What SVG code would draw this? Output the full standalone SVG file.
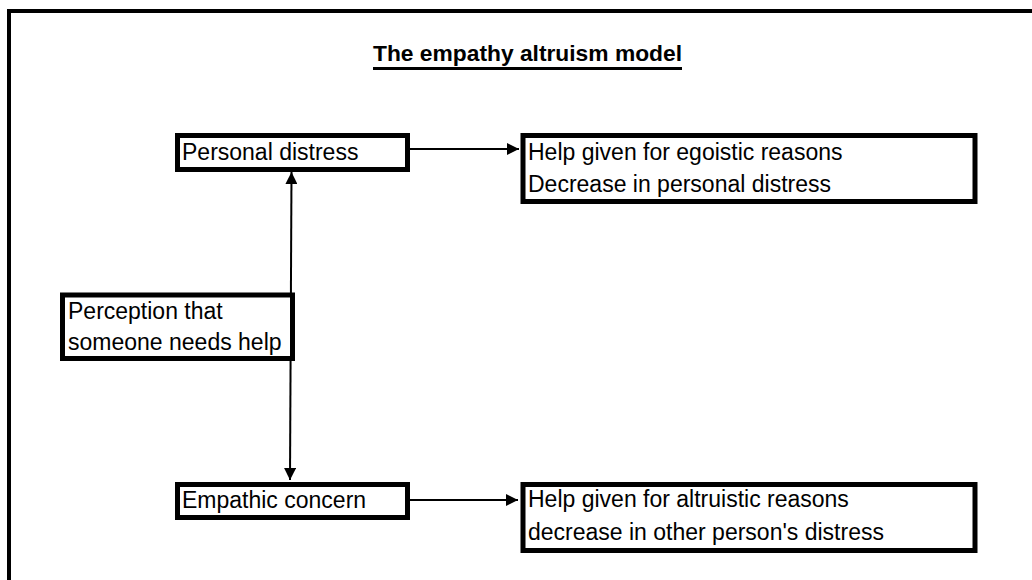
<svg xmlns="http://www.w3.org/2000/svg" width="1032" height="580" viewBox="0 0 1032 580">
  <style>
    .box { fill: #ffffff; stroke: #000000; stroke-width: 5; }
    .t { font-family: "Liberation Sans", Arial, sans-serif; font-size: 23px; fill: #000000; }
    .title { font-family: "Liberation Sans", Arial, sans-serif; font-size: 22px; font-weight: bold; fill: #000000; }
    .conn { stroke: #000000; stroke-width: 2; fill: none; }
  </style>
  <defs>
    <marker id="arrow" viewBox="0 0 12 12" refX="12" refY="6" markerWidth="12" markerHeight="12" markerUnits="userSpaceOnUse" orient="auto-start-reverse">
      <path d="M0,0 L12,6 L0,12 Z" fill="#000000"/>
    </marker>
  </defs>
  <rect width="1032" height="580" fill="#ffffff"/>
  <g id="frame">
    <path d="M9,580 L9,11 L1032,11" fill="none" stroke="#000000" stroke-width="4"/>
  </g>
  <g id="title">
    <text class="title" x="373" y="61" textLength="309" lengthAdjust="spacingAndGlyphs">The empathy altruism model</text>
    <line x1="373" y1="68.5" x2="682" y2="68.5" stroke="#000000" stroke-width="3"/>
  </g>
  <g id="connectors">
    <line class="conn" x1="291.5" y1="172" x2="290" y2="480" marker-start="url(#arrow)" marker-end="url(#arrow)"/>
    <line class="conn" x1="410" y1="149" x2="519" y2="149" marker-end="url(#arrow)"/>
    <line class="conn" x1="410" y1="500" x2="518" y2="500" marker-end="url(#arrow)"/>
  </g>
  <g id="personal-distress">
    <rect class="box" x="177.5" y="135.5" width="230" height="34"/>
    <text class="t" x="182" y="160">Personal distress</text>
  </g>
  <g id="egoistic-help">
    <rect class="box" x="523" y="135.5" width="452" height="66"/>
    <text class="t" x="528" y="160">Help given for egoistic reasons</text>
    <text class="t" x="528" y="192">Decrease in personal distress</text>
  </g>
  <g id="perception">
    <rect class="box" x="62.5" y="295" width="230" height="63.5"/>
    <text class="t" x="68" y="319">Perception that</text>
    <text class="t" x="68" y="350">someone needs help</text>
  </g>
  <g id="empathic-concern">
    <rect class="box" x="177.5" y="484.5" width="230" height="33"/>
    <text class="t" x="182" y="508">Empathic concern</text>
  </g>
  <g id="altruistic-help">
    <rect class="box" x="523" y="484.5" width="452" height="66"/>
    <text class="t" x="528" y="507">Help given for altruistic reasons</text>
    <text class="t" x="528" y="540">decrease in other person's distress</text>
  </g>
</svg>
